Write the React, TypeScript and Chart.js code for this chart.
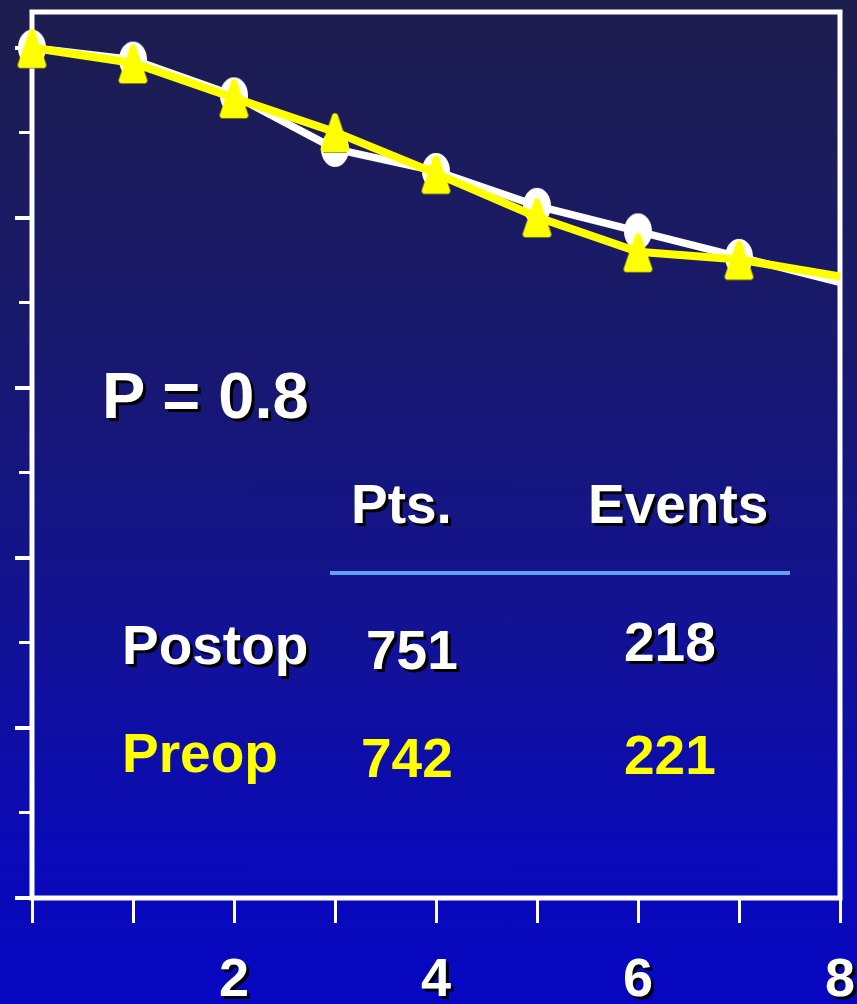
import React, { useEffect, useRef } from "react";
import { Chart, registerables } from "chart.js";

Chart.register(...registerables);

// ---- data ----
const years = [0, 1, 2, 3, 4, 5, 6, 7, 8];
const postopSurvival = [100, 98.6, 94.4, 88.1, 85.5, 81.4, 78.4, 75.4, 72.4];
const preopSurvival = [100, 98.2, 94.1, 90.1, 85.2, 80.1, 76.0, 75.1, 73.1];
const markerShown = [true, true, true, true, true, true, true, true, false];

const xTickValues = [0, 1, 2, 3, 4, 5, 6, 7, 8];
const xTickLabels = ["", "", "2", "", "4", "", "6", "", "8"];
const yMajorTicks = [0, 20, 40, 60, 80, 100];
const yMinorTicks = [10, 30, 50, 70, 90];
const yMin = 0;
const yMax = 104.2;

const pValueText = "P = 0.8";
const tableHeaders = ["Pts.", "Events"];
const groupNames = ["Postop", "Preop"];
const groupPts = ["751", "742"];
const groupEvents = ["218", "221"];

const FONT = "'Liberation Sans', Arial, Helvetica, sans-serif";

function makeEllipse(): HTMLCanvasElement {
  const c = document.createElement("canvas");
  c.width = 30;
  c.height = 38;
  const g = c.getContext("2d")!;
  g.fillStyle = "#ffffff";
  g.beginPath();
  g.ellipse(15, 19, 14, 18, 0, 0, Math.PI * 2);
  g.fill();
  return c;
}

function makeTriangle(): HTMLCanvasElement {
  const c = document.createElement("canvas");
  c.width = 33;
  c.height = 44;
  const g = c.getContext("2d")!;
  const apex = { x: 16.5, y: -3 };
  const right = { x: 32, y: 42.5 };
  const left = { x: 1, y: 42.5 };
  g.fillStyle = "#ffff00";
  g.beginPath();
  g.moveTo(16.5, 42.5);
  g.arcTo(right.x, right.y, apex.x, apex.y, 3);
  g.arcTo(apex.x, apex.y, left.x, left.y, 3);
  g.arcTo(left.x, left.y, right.x, right.y, 3);
  g.closePath();
  g.fill();
  g.strokeStyle = "rgba(110,110,0,0.7)";
  g.lineWidth = 1;
  g.beginPath();
  g.moveTo(5, 42.5);
  g.lineTo(28, 42.5);
  g.stroke();
  return c;
}

const framePlugin = {
  id: "frameAndShadow",
  beforeDatasetsDraw(chart: any) {
    const { ctx, chartArea: a } = chart;
    ctx.save();
    ctx.strokeStyle = "#ffffff";
    ctx.lineWidth = 5;
    ctx.strokeRect(a.left, a.top, a.right - a.left, a.bottom - a.top);
    ctx.restore();
  },
  afterDatasetsDraw(chart: any) {
    const ctx = chart.ctx;
    ctx.shadowColor = "rgba(0,0,0,0.95)";
    ctx.shadowOffsetX = 3;
    ctx.shadowOffsetY = 3;
    ctx.shadowBlur = 0;
  },
  afterDraw(chart: any) {
    const ctx = chart.ctx;
    ctx.shadowColor = "rgba(0,0,0,0)";
    ctx.shadowOffsetX = 0;
    ctx.shadowOffsetY = 0;
  },
};

const whiteShadow = "3px 3px 0 #000";

function Txt(props: { text: string; left: number; top: number; size: number; color: string; shadow?: boolean }) {
  return (
    <div
      style={{
        position: "absolute",
        left: props.left,
        top: props.top,
        fontFamily: FONT,
        fontWeight: "bold",
        fontSize: props.size,
        lineHeight: 1,
        color: props.color,
        whiteSpace: "nowrap",
        textShadow: props.shadow ? whiteShadow : "none",
      }}
    >
      {props.text}
    </div>
  );
}

function fitVertical(s: any) {
  s.width = 0;
  s.paddingTop = 0;
  s.paddingBottom = 0;
}

export default function App() {
  const canvasRef = useRef<HTMLCanvasElement | null>(null);

  useEffect(() => {
    document.body.style.margin = "0";
    const canvas = canvasRef.current;
    if (!canvas) return;
    const ellipse = makeEllipse();
    const tri = makeTriangle();

    const chart = new Chart(canvas, {
      type: "line",
      data: {
        datasets: [
          {
            label: "Preop",
            data: years.map((x, i) => ({ x, y: preopSurvival[i] })),
            borderColor: "#ffff00",
            backgroundColor: "#ffff00",
            borderWidth: 8,
            pointStyle: tri as any,
            pointRadius: markerShown.map((s) => (s ? 15 : 0)),
            pointHoverRadius: markerShown.map((s) => (s ? 15 : 0)),
            tension: 0,
            clip: false as any,
            order: 0,
          },
          {
            label: "Postop",
            data: years.map((x, i) => ({ x, y: postopSurvival[i] })),
            borderColor: "#ffffff",
            backgroundColor: "#ffffff",
            borderWidth: 7.5,
            pointStyle: ellipse as any,
            pointRadius: markerShown.map((s) => (s ? 15 : 0)),
            pointHoverRadius: markerShown.map((s) => (s ? 15 : 0)),
            tension: 0,
            clip: false as any,
            order: 1,
          },
        ],
      },
      options: {
        animation: false,
        responsive: true,
        maintainAspectRatio: false,
        events: [],
        layout: { autoPadding: false, padding: { left: 32, right: 17, top: 12, bottom: 0 } },
        plugins: { legend: { display: false }, tooltip: { enabled: false } },
        scales: {
          x: {
            type: "linear",
            min: 0,
            max: 8,
            position: "bottom",
            afterBuildTicks: (s: any) => {
              s.ticks = xTickValues.map((v) => ({ value: v }));
            },
            afterFit: (s: any) => {
              s.height = 106;
              s.paddingLeft = 0;
              s.paddingRight = 0;
            },
            grid: {
              display: true,
              drawOnChartArea: false,
              drawTicks: true,
              tickLength: 25,
              color: "#ffffff",
              lineWidth: 3,
            },
            border: { display: false },
            ticks: {
              autoSkip: false,
              maxRotation: 0,
              padding: 26,
              color: "#ffffff",
              z: 1,
              font: { family: FONT, size: 54, weight: "bold" },
              callback: (v: any) => {
                const i = xTickValues.indexOf(Number(v));
                return i >= 0 ? xTickLabels[i] : "";
              },
            },
          } as any,
          y: {
            type: "linear",
            min: yMin,
            max: yMax,
            position: "left",
            afterBuildTicks: (s: any) => {
              s.ticks = yMajorTicks.map((v) => ({ value: v }));
            },
            afterFit: fitVertical,
            grid: {
              display: true,
              drawOnChartArea: false,
              drawTicks: true,
              tickLength: 17,
              color: "#ffffff",
              lineWidth: 4,
            },
            border: { display: false },
            ticks: { display: false },
          } as any,
          y2: {
            type: "linear",
            min: yMin,
            max: yMax,
            position: "left",
            afterBuildTicks: (s: any) => {
              s.ticks = yMinorTicks.map((v) => ({ value: v }));
            },
            afterFit: fitVertical,
            grid: {
              display: true,
              drawOnChartArea: false,
              drawTicks: true,
              tickLength: 13,
              color: "#ffffff",
              lineWidth: 3,
            },
            border: { display: false },
            ticks: { display: false },
          } as any,
        },
      },
      plugins: [framePlugin as any],
    });

    return () => {
      chart.destroy();
    };
  }, []);

  return (
    <div
      style={{
        position: "absolute",
        left: 0,
        top: 0,
        width: 857,
        height: 1004,
        overflow: "hidden",
        background: "linear-gradient(to bottom, #1d1d4e 0%, #19196a 30%, #131390 60%, #0a0ab8 85%, #0707c2 100%)",
      }}
    >
      <canvas ref={canvasRef} />
      <Txt text={pValueText} left={102} top={363} size={65} color="#ffffff" shadow />
      <Txt text={tableHeaders[0]} left={351} top={477} size={55} color="#ffffff" shadow />
      <Txt text={tableHeaders[1]} left={588} top={477} size={55} color="#ffffff" shadow />
      <div style={{ position: "absolute", left: 330, top: 571, width: 460, height: 4, background: "#62a0f0" }} />
      <Txt text={groupNames[0]} left={122} top={618} size={55} color="#ffffff" shadow />
      <Txt text={groupPts[0]} left={366} top={623} size={55} color="#ffffff" shadow />
      <Txt text={groupEvents[0]} left={624} top={615} size={55} color="#ffffff" shadow />
      <Txt text={groupNames[1]} left={122} top={726} size={55} color="#ffff00" />
      <Txt text={groupPts[1]} left={361} top={731} size={55} color="#ffff00" />
      <Txt text={groupEvents[1]} left={624} top={728} size={55} color="#ffff00" />
    </div>
  );
}
